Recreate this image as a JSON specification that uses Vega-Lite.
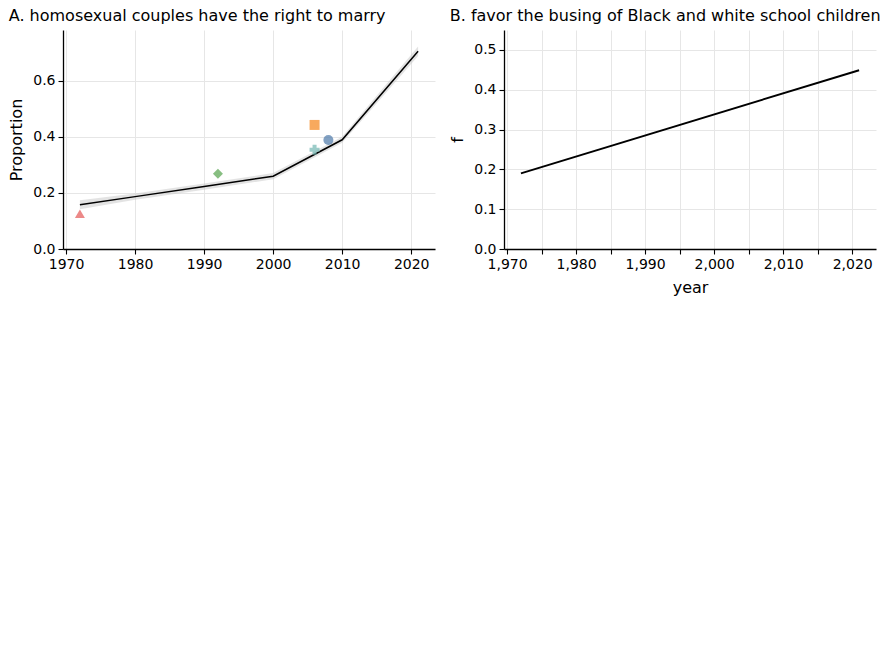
{
  "$schema": "https://vega.github.io/schema/vega-lite/v6.json",
  "padding": 8,
  "background": "white",
  "config": {
    "font": "DejaVu Sans",
    "view": {"stroke": null},
    "axis": {
      "labelFont": "DejaVu Sans", "labelFontSize": 14, "labelColor": "black",
      "domainColor": "black", "domainWidth": 1.3,
      "tickColor": "black", "tickSize": 5, "tickWidth": 1.1,
      "labelPadding": 3, "grid": true, "gridColor": "#e6e6e6", "gridWidth": 1,
      "titleFont": "DejaVu Sans", "titleFontSize": 16, "titleFontWeight": "normal", "titleColor": "black", "titlePadding": 8
    },
    "title": {"anchor": "start", "font": "DejaVu Sans", "fontSize": 16, "fontWeight": "normal", "color": "black", "offset": 6}
  },
  "datasets": {
    "fit": [
      {"p":"A","year":1972,"f":0.158,"lo":0.142,"hi":0.174},{"p":"A","year":1980,"f":0.187,"lo":0.176,"hi":0.198},{"p":"A","year":1990,"f":0.223,"lo":0.212,"hi":0.234},{"p":"A","year":2000,"f":0.260,"lo":0.249,"hi":0.271},{"p":"A","year":2010,"f":0.390,"lo":0.379,"hi":0.401},{"p":"A","year":2021,"f":0.706,"lo":0.689,"hi":0.723},
      {"p":"B","year":1972,"f":0.190,"lo":0.166,"hi":0.214},{"p":"B","year":2021,"f":0.449,"lo":0.413,"hi":0.485}
    ],
    "pts": [
      {"p":"A","year":1972,"kind":"Novel prediction","v":0.126,"lo":0.096,"hi":0.156},
      {"p":"A","year":2008,"kind":"Correct prediction (±3%)","v":0.389,"lo":0.359,"hi":0.419},
      {"p":"A","year":2006,"kind":"Incorrect prediction (±3%)","v":0.443,"lo":0.413,"hi":0.473},
      {"p":"A","year":1992,"kind":"Observed (Roper, orange)","v":0.269},
      {"p":"A","year":2006,"kind":"Observed (GSS)","v":0.354},
      {"p":"B","year":1973,"kind":"Novel prediction","v":0.220,"lo":0.190,"hi":0.250}
    ]
  },
  "columns": 2,
  "spacing": 14,
  "concat": [
    {
      "width": 372, "height": 219,
      "title": "A. homosexual couples have the right to marry",
      "layer": [
        {"data": {"name": "fit"}, "transform": [{"filter": "datum.p === 'A'"}],
         "mark": {"type": "area", "color": "#c8c8c8", "opacity": 0.5},
         "encoding": {
           "x": {"field": "year", "type": "quantitative", "scale": {"domain": [1969.55, 2023.45], "nice": false, "zero": false}, "axis": {"values": [1970, 1980, 1990, 2000, 2010, 2020], "format": "d", "title": null}},
           "y": {"field": "lo", "type": "quantitative", "scale": {"domain": [0, 0.782], "nice": false}, "axis": {"values": [0, 0.1, 0.2, 0.3, 0.4, 0.5, 0.6, 0.7], "format": ".1f", "title": "Proportion"}},
           "y2": {"field": "hi"}}},
        {"data": {"name": "fit"}, "transform": [{"filter": "datum.p === 'A'"}],
         "mark": {"type": "line", "color": "black", "strokeWidth": 1.5},
         "encoding": {"x": {"field": "year", "type": "quantitative"}, "y": {"field": "f", "type": "quantitative"}}},
        {"data": {"name": "pts"}, "transform": [{"filter": "datum.p === 'A'"}],
         "mark": {"type": "point", "filled": true, "size": 100},
         "encoding": {
           "x": {"field": "year", "type": "quantitative"},
           "y": {"field": "v", "type": "quantitative"},
           "shape": {"field": "kind", "type": "nominal", "legend": null},
           "color": {"field": "kind", "type": "nominal", "legend": null}
         }}
      ]
    },
    {
      "width": 372, "height": 219,
      "title": "B. favor the busing of Black and white school children",
      "layer": [
        {"data": {"name": "fit"}, "transform": [{"filter": "datum.p === 'B'"}],
         "mark": {"type": "line", "color": "black"},
         "encoding": {
           "x": {"field": "year", "type": "quantitative", "scale": {"domain": [1969.55, 2023.45], "nice": false, "zero": false}},
           "y": {"field": "f", "type": "quantitative", "scale": {"domain": [0, 0.55], "nice": false}}}}
      ]
    }
  ]
}
